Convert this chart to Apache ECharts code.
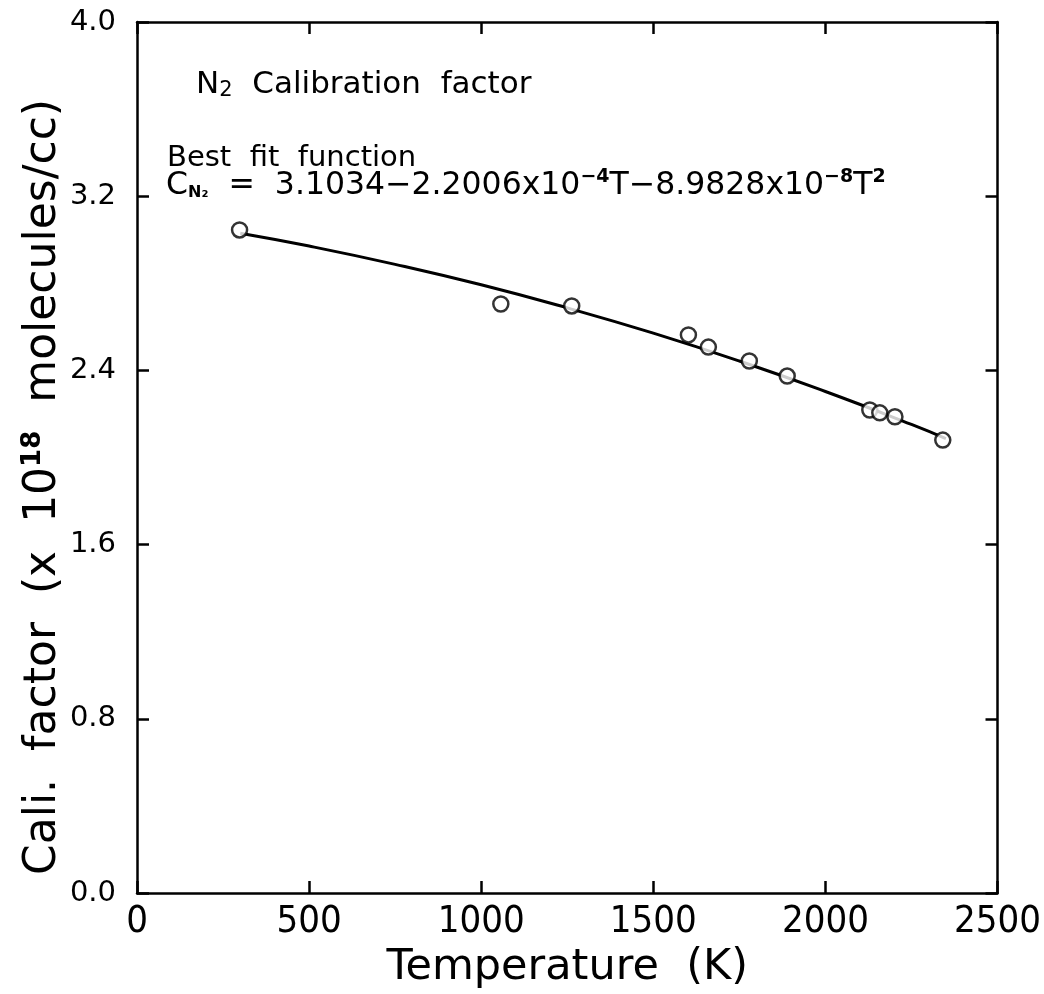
<!DOCTYPE html>
<html><head><meta charset="utf-8">
<script src="https://cdn.jsdelivr.net/npm/echarts@6/dist/echarts.min.js"></script>
<style>html,body{margin:0;padding:0;background:#fff}#c{width:1044px;height:994px}</style>
</head><body><div id="c"></div>
<script>
// Measured data points: temperature (K) and calibration factor (x1e18 molecules/cc)
const tempPts = [298, 1057, 1263, 1602, 1660, 1779, 1889, 2129, 2158, 2202, 2341];
const caliPts = [3.045, 2.705, 2.696, 2.563, 2.507, 2.443, 2.374, 2.218, 2.205, 2.187, 2.080];
// Best-fit curve
const fitT = [300, 500, 750, 1000, 1250, 1500, 1750, 2000, 2250, 2350];
const fitC = [3.030, 2.971, 2.887, 2.793, 2.687, 2.571, 2.443, 2.303, 2.152, 2.087];
const xTicks = [0, 500, 1000, 1500, 2000, 2500];
const yTicks = [0.0, 0.8, 1.6, 2.4, 3.2, 4.0];

const font = '"DejaVu Sans", sans-serif';
const narrow = '"Liberation Sans Narrow", "DejaVu Sans Condensed", sans-serif';
const chart = echarts.init(document.getElementById('c'));
const axisLine = {show: true, onZero: false, lineStyle: {color: '#000', width: 2.5}};
const tick = {show: true, inside: true, length: 12, lineStyle: {color: '#000', width: 2.5}};
chart.setOption({
  animation: false,
  backgroundColor: '#fff',
  grid: {left: 137, right: 42, top: 22, bottom: 101},
  xAxis: [{
    type: 'value', min: 0, max: 2500, interval: 500, position: 'bottom',
    axisLine, axisTick: tick, splitLine: {show: false},
    axisLabel: {color: '#000', fontFamily: narrow, fontSize: 38, margin: 10,
      formatter: v => xTicks.includes(v) ? String(v) : ''},
    name: 'Temperature  (K)', nameLocation: 'middle', nameGap: 43,
    nameTextStyle: {color: '#000', fontFamily: font, fontSize: 43}
  }, {
    type: 'value', min: 0, max: 2500, interval: 500, position: 'top',
    axisLine, axisTick: tick, axisLabel: {show: false}, splitLine: {show: false}
  }],
  yAxis: [{
    type: 'value', min: 0, max: 4.0, interval: 0.8, position: 'left',
    axisLine, axisTick: tick, splitLine: {show: false},
    axisLabel: {color: '#000', fontFamily: font, fontSize: 29, margin: 21,
      formatter: v => yTicks.map(t => t.toFixed(1)).includes(v.toFixed(1)) ? v.toFixed(1) : ''}
  }, {
    type: 'value', min: 0, max: 4.0, interval: 0.8, position: 'right',
    axisLine, axisTick: tick, axisLabel: {show: false}, splitLine: {show: false}
  }],
  graphic: [
    {type: 'text', x: 44, y: 487, rotation: Math.PI / 2, style: {
      text: '{n|Cali.  factor  (x  10}{s|18}{n|  molecules/cc)}',
      align: 'center', verticalAlign: 'middle', fill: '#000',
      rich: {n: {fontFamily: font, fontSize: 44, fill: '#000'},
             s: {fontFamily: font, fontSize: 26, fontWeight: 'bold', fill: '#000', padding: [0,0,22,0]}}}},
    {type: 'text', left: 196, top: 69, style: {
      text: '{n|N}{sub|2}{n|  Calibration  factor}', fill: '#000',
      rich: {n: {fontFamily: font, fontSize: 31, fill: '#000'},
             sub: {fontFamily: font, fontSize: 21, fill: '#000', padding: [12,0,0,0]}}}},
    {type: 'text', left: 167, top: 144, style: {
      text: 'Best  fit  function', fill: '#000', font: '29px "DejaVu Sans", sans-serif'}},
    {type: 'text', left: 166, top: 168, style: {
      text: '{n|C}{sub|N₂}{n|  =  3.1034−2.2006x10}{sup|−4}{n|T−8.9828x10}{sup|−8}{n|T}{sup|2}',
      fill: '#000',
      rich: {n: {fontFamily: font, fontSize: 31.5, fill: '#000'},
             sub: {fontFamily: font, fontSize: 16, fontWeight: 'bold', fill: '#000', padding: [14,0,0,0]},
             sup: {fontFamily: font, fontSize: 19, fontWeight: 'bold', fill: '#000', padding: [0,0,16,0]}}}}
  ],
  series: [{
    type: 'line', data: fitT.map((t, i) => [t, fitC[i]]), smooth: true,
    showSymbol: false, lineStyle: {color: '#000', width: 3}, z: 2
  }, {
    type: 'scatter', data: tempPts.map((t, i) => [t, caliPts[i]]),
    symbol: 'circle', symbolSize: 15,
    itemStyle: {color: '#fff', borderColor: '#000', borderWidth: 2.5}, z: 3
  }]
});
</script></body></html>
